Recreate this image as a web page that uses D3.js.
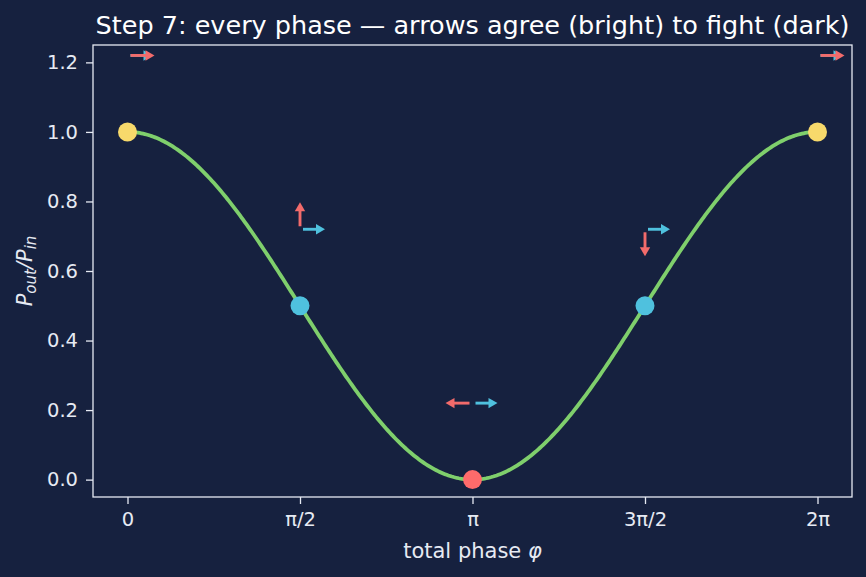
<!DOCTYPE html>
<html lang="en">
<head>
<meta charset="UTF-8">
<title>Step 7: every phase</title>
<script src="https://d3js.org/d3.v7.min.js"></script>
<style>
  html, body { margin: 0; padding: 0; background: #16213f; }
  svg { display: block; font-family: "DejaVu Sans", sans-serif; }
</style>
</head>
<body>
<div id="chart"></div>
<script>
// data
const PI = Math.PI;
const phases = [0, PI / 2, PI, 3 * PI / 2, 2 * PI];
const tickLabels = ["0", "\u03c0/2", "\u03c0", "3\u03c0/2", "2\u03c0"];
const powers = [1.0, 0.5, 0.0, 0.5, 1.0];
const dotColors = ["#f7d96b", "#4fc1de", "#ff6b6b", "#4fc1de", "#f7d96b"];
const yTicks = [0.0, 0.2, 0.4, 0.6, 0.8, 1.0, 1.2];
const arrowLift = 0.22;   // arrows sit this far above each dot

const W = 866, H = 577;
const margin = {top: 45, right: 14, bottom: 80, left: 93};
const width = W - margin.left - margin.right;
const height = H - margin.top - margin.bottom;

const fg = "#e6eaf3";
const red = "#f26b6b", cyan = "#4fc1de", green = "#7fcf6c";

const svg = d3.select("#chart").append("svg")
  .attr("width", W).attr("height", H);
svg.append("rect").attr("width", W).attr("height", H).attr("fill", "#16213f");

const g = svg.append("g").attr("transform", `translate(${margin.left},${margin.top})`);

const pad = 0.05 * 2 * PI;
const x = d3.scaleLinear().domain([-pad, 2 * PI + pad]).range([0, width]);
const y = d3.scaleLinear().domain([-0.05, 1.25]).range([height, 0]);

// axes
const xAxis = g.append("g").attr("transform", `translate(0,${height})`)
  .call(d3.axisBottom(x).tickValues(phases).tickFormat((d, i) => tickLabels[i]).tickSize(7).tickPadding(7));
const yAxis = g.append("g")
  .call(d3.axisLeft(y).tickValues(yTicks).tickFormat(d3.format(".1f")).tickSize(7).tickPadding(8));
[xAxis, yAxis].forEach(a => {
  a.select(".domain").remove();
  a.selectAll("line").attr("stroke", fg).attr("stroke-width", 1.3);
  a.selectAll("text").attr("fill", fg).style("font-size", "19.5px").style("font-family", "DejaVu Sans, sans-serif");
});
xAxis.selectAll("text").attr("dy", "0.78em");

g.append("rect").attr("width", width).attr("height", height)
  .attr("fill", "none").attr("stroke", fg).attr("stroke-width", 1.3);

// curve (1 + cos phi) / 2
const curve = d3.range(0, 401).map(i => {
  const p = 2 * PI * i / 400;
  return [p, (1 + Math.cos(p)) / 2];
});
g.append("path").datum(curve)
  .attr("fill", "none").attr("stroke", green).attr("stroke-width", 3.8)
  .attr("d", d3.line().x(d => x(d[0])).y(d => y(d[1])));

// phasor arrows
function arrow(x0, y0, ang, len, color) {
  const gap = 3, head = 9, hw = 5.2;
  const dx = Math.cos(ang), dy = -Math.sin(ang);
  const sx = x0 + gap * dx, sy = y0 + gap * dy;
  const ex = sx + len * dx, ey = sy + len * dy;
  const bx = ex - head * dx, by = ey - head * dy;
  g.append("line").attr("x1", sx).attr("y1", sy).attr("x2", bx + dx).attr("y2", by + dy)
    .attr("stroke", color).attr("stroke-width", 2.9);
  g.append("path")
    .attr("d", `M${ex},${ey}L${bx - hw * dy},${by + hw * dx}L${bx + hw * dy},${by - hw * dx}Z`)
    .attr("fill", color);
}
phases.forEach((p, i) => {
  const ax = x(p), ay = y(powers[i] + arrowLift);
  arrow(ax, ay, 0, 22, cyan);
  arrow(ax, ay, p, 24, red);
});

// dots
g.selectAll("circle.dot").data(phases).join("circle")
  .attr("class", "dot")
  .attr("cx", d => x(d)).attr("cy", (d, i) => y(powers[i]))
  .attr("r", 9.5).attr("fill", (d, i) => dotColors[i]);

// title and labels
svg.append("text").attr("x", margin.left + width / 2).attr("y", 34)
  .attr("text-anchor", "middle").attr("fill", "#ffffff")
  .style("font-size", "25.5px")
  .text("Step 7: every phase \u2014 arrows agree (bright) to fight (dark)");

const xl = svg.append("text").attr("x", margin.left + width / 2).attr("y", 558)
  .attr("text-anchor", "middle").attr("fill", fg).style("font-size", "21px");
xl.append("tspan").text("total phase ");
xl.append("tspan").attr("font-style", "italic").text("\u03c6");

const yl = svg.append("text")
  .attr("transform", `translate(32,${margin.top + height / 2}) rotate(-90)`)
  .attr("text-anchor", "middle").attr("fill", fg).style("font-size", "21px").attr("font-style", "italic");
yl.append("tspan").text("P");
yl.append("tspan").attr("dy", 4).style("font-size", "15px").text("out");
yl.append("tspan").attr("dy", -4).text("/P");
yl.append("tspan").attr("dy", 4).style("font-size", "15px").text("in");
</script>
</body>
</html>
